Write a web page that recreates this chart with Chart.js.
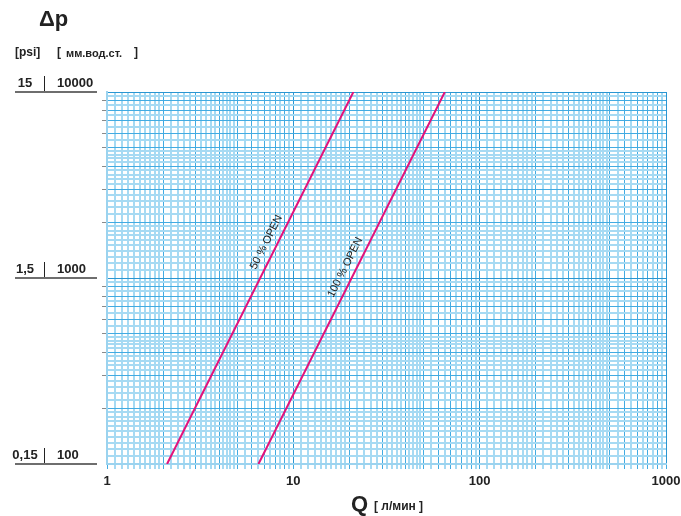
<!DOCTYPE html>
<html>
<head>
<meta charset="utf-8">
<script src="https://cdn.jsdelivr.net/npm/chart.js@4"></script>
<style>
  body { margin: 0; background: #fff; }
  #wrap { width: 681px; height: 516px; }
</style>
</head>
<body>
<div id="wrap"><canvas id="chart" width="681" height="516"></canvas></div>
<script>
// flow Q [л/мин] vs pressure drop [мм.вод.ст.]
const flow50 = [2.1, 21];
const dp50 = [100, 10000];
const flow100 = [6.5, 65];
const dp100 = [100, 10000];
const seriesNames = ["50 % OPEN", "100 % OPEN"];
const labelAt = [1470, 1077]; // Δp where the rotated name sits on each curve

const xDecadeLabels = [1, 10, 100, 1000];
const yTickMm = [100, 1000, 10000];
const yTickPsi = ["0,15", "1,5", "15"];

// log paper rulings, in tenths of the decade start
function ruling(from, to) {
  const out = [];
  for (let d = from; d < to; d *= 10) {
    for (let n = 10; n < 100; n += (n < 20 ? 1 : n < 50 ? 2 : 5)) {
      out.push(+(n * d / 10).toPrecision(4));
    }
  }
  out.push(to);
  return out;
}
function kind(v) {
  const e = Math.floor(Math.log10(v) + 1e-9);
  const m = v / Math.pow(10, e);
  if (Math.abs(m - 1) < 1e-6) return 2;
  if (Math.abs(m - Math.round(m)) < 1e-6) return 1;
  return 0;
}
const gridColor = c => {
  const k = kind(c.tick.value);
  return k === 2 ? '#2a96d2' : k === 1 ? '#42abe2' : '#a6daf3';
};
const gridWidth = c => (kind(c.tick.value) > 0 ? 1 : 2);

const ctx = document.getElementById("chart").getContext("2d");

const sideLabels = {
  id: 'sideLabels',
  afterDraw(chart) {
    const c = chart.ctx;
    const y = chart.scales.y;
    const x = chart.scales.x;
    c.save();
    c.fillStyle = '#222';
    c.textBaseline = 'middle';
    c.font = 'bold 22px "Liberation Sans", Arial, sans-serif';
    c.fillText('\u0394p', 39, 20);
    c.font = 'bold 12px "Liberation Sans", Arial, sans-serif';
    c.fillText('[psi]', 15, 53);
    c.fillText('[', 57, 53);
    c.fillText(']', 134, 53);
    c.font = 'bold 11px "Liberation Sans", Arial, sans-serif';
    c.fillText('мм.вод.ст.', 66, 54);

    c.font = 'bold 13px "Liberation Sans", Arial, sans-serif';
    yTickMm.forEach((v, i) => {
      const py = Math.round(y.getPixelForValue(v));
      c.textAlign = 'center';
      c.fillText(yTickPsi[i], 25, py - 9);
      c.textAlign = 'left';
      c.fillText(String(v), 57, py - 9);
      c.strokeStyle = '#6e6e6e';
      c.lineWidth = 2;
      c.beginPath(); c.moveTo(15, py); c.lineTo(97, py); c.stroke();
      c.strokeStyle = '#222';
      c.lineWidth = 1;
      c.beginPath(); c.moveTo(44.5, py - 16); c.lineTo(44.5, py - 1); c.stroke();
    });

    c.textAlign = 'left';
    c.font = 'bold 22px "Liberation Sans", Arial, sans-serif';
    c.fillText('Q', 351, 505);
    c.font = 'bold 12px "Liberation Sans", Arial, sans-serif';
    c.fillText('[ л/мин ]', 374, 507);

    // curve names along the lines
    const sets = chart.data.datasets;
    c.font = '11px "Liberation Sans", Arial, sans-serif';
    c.fillStyle = '#222';
    sets.forEach((ds, i) => {
      const p0 = ds.data[0], p1 = ds.data[1];
      const k = Math.log(p1.x / p0.x) / Math.log(p1.y / p0.y);
      const vy = labelAt[i];
      const vx = p0.x * Math.pow(vy / p0.y, k);
      const px = x.getPixelForValue(vx), py = y.getPixelForValue(vy);
      const ang = Math.atan2(y.getPixelForValue(p1.y) - y.getPixelForValue(p0.y),
                             x.getPixelForValue(p1.x) - x.getPixelForValue(p0.x));
      c.save();
      c.translate(px, py);
      c.rotate(ang);
      c.textAlign = 'center';
      c.textBaseline = 'bottom';
      c.fillText(seriesNames[i], 0, -5);
      c.restore();
    });
    c.restore();
  }
};

new Chart(ctx, {
  type: 'scatter',
  data: {
    datasets: [
      {
        label: seriesNames[0],
        data: flow50.map((q, i) => ({ x: q, y: dp50[i] })),
        showLine: true,
        borderColor: '#e2137b',
        borderWidth: 2,
        pointRadius: 0
      },
      {
        label: seriesNames[1],
        data: flow100.map((q, i) => ({ x: q, y: dp100[i] })),
        showLine: true,
        borderColor: '#e2137b',
        borderWidth: 2,
        pointRadius: 0
      }
    ]
  },
  options: {
    responsive: false,
    animation: false,
    layout: { padding: { left: 0, right: 15, top: 92, bottom: 0 } },
    plugins: { legend: { display: false }, tooltip: { enabled: false } },
    scales: {
      x: {
        type: 'logarithmic',
        min: 1,
        max: 1000,
        afterBuildTicks: s => { s.ticks = ruling(1, 1000).map(v => ({ value: v })); },
        afterFit: s => { s.height = 52; s.paddingLeft = 0; s.paddingRight = 0; },
        border: { color: '#9bd3ef', width: 2 },
        grid: {
          color: gridColor,
          lineWidth: gridWidth,
          tickLength: 5,
          tickColor: c => (kind(c.tick.value) > 0 ? '#42abe2' : '#a6daf3')
        },
        ticks: {
          autoSkip: false,
          maxRotation: 0,
          padding: 5,
          color: '#222',
          font: { family: '"Liberation Sans", Arial, sans-serif', size: 13, weight: 'bold' },
          callback: v => (xDecadeLabels.includes(v) ? String(v) : '')
        }
      },
      y: {
        type: 'logarithmic',
        min: 100,
        max: 10000,
        afterBuildTicks: s => { s.ticks = ruling(100, 10000).map(v => ({ value: v })); },
        afterFit: s => { s.width = 107; s.paddingTop = 0; s.paddingBottom = 0; },
        border: { color: '#9bd3ef', width: 2 },
        grid: {
          color: gridColor,
          lineWidth: gridWidth,
          tickLength: 5,
          tickColor: c => (kind(c.tick.value) === 1 ? '#8a8a8a' : 'rgba(0,0,0,0)')
        },
        ticks: { display: false }
      }
    }
  },
  plugins: [sideLabels]
});
</script>
</body>
</html>
